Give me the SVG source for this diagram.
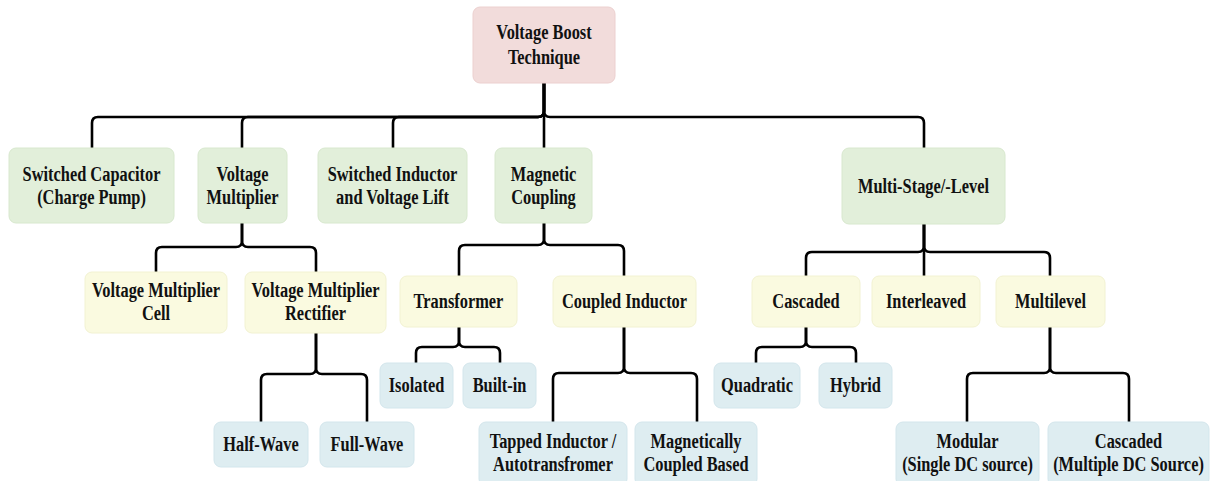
<svg xmlns="http://www.w3.org/2000/svg" width="1215" height="481" viewBox="0 0 1215 481">
  <style>
    .root { fill: #f2dcdb; stroke: #ecd0cf; stroke-width: 1; }
    .l1 { fill: #e2efda; stroke: #d8e8ce; stroke-width: 1; }
    .l2 { fill: #fafae0; stroke: #f2f2d2; stroke-width: 1; }
    .l3 { fill: #deedf1; stroke: #d3e6ec; stroke-width: 1; }
    .lbl { font-family: "Liberation Serif", "Times New Roman", serif; font-weight: bold; font-size: 20px; fill: #111; text-anchor: middle; }
    .wire { fill: none; stroke: #000; stroke-width: 2.6; stroke-linejoin: round; stroke-linecap: butt; }
  </style>
  <rect width="1215" height="481" fill="#fff"/>

  <!-- connectors: each child gets its own bracket path from the parent stem -->
  <g id="connectors" class="wire">
    <!-- root to level 1 (bus y=117) -->
    <path d="M544,83 V111 Q544,117 538,117 H98 Q92,117 92,123 V148"/>
    <path d="M544,83 V111 Q544,117 538,117 H248 Q242,117 242,123 V148"/>
    <path d="M544,83 V111 Q544,117 538,117 H399 Q393,117 393,123 V148"/>
    <path d="M544,83 V148"/>
    <path d="M544,83 V111 Q544,117 550,117 H918 Q924,117 924,123 V148"/>

    <!-- Voltage Multiplier (bus y=247) -->
    <path d="M242,223 V241 Q242,247 236,247 H162 Q156,247 156,253 V272"/>
    <path d="M242,223 V241 Q242,247 248,247 H310 Q316,247 316,253 V272"/>

    <!-- Magnetic Coupling (bus y=245) -->
    <path d="M544,223 V239 Q544,245 538,245 H465 Q459,245 459,251 V276"/>
    <path d="M544,223 V239 Q544,245 550,245 H618 Q624,245 624,251 V276"/>

    <!-- Multi-Stage/-Level (bus y=252) -->
    <path d="M924,224 V246 Q924,252 918,252 H812 Q806,252 806,258 V276"/>
    <path d="M924,224 V276"/>
    <path d="M924,224 V246 Q924,252 930,252 H1044 Q1050,252 1050,258 V276"/>

    <!-- Voltage Multiplier Rectifier (bus y=374) -->
    <path d="M316,333 V368 Q316,374 310,374 H267 Q261,374 261,380 V422"/>
    <path d="M316,333 V368 Q316,374 322,374 H361 Q367,374 367,380 V422"/>

    <!-- Transformer (bus y=347) -->
    <path d="M459,327 V341 Q459,347 453,347 H422 Q416,347 416,353 V363"/>
    <path d="M459,327 V341 Q459,347 465,347 H494 Q500,347 500,353 V363"/>

    <!-- Coupled Inductor (bus y=373) -->
    <path d="M624,327 V367 Q624,373 618,373 H559 Q553,373 553,379 V422"/>
    <path d="M624,327 V367 Q624,373 630,373 H691 Q697,373 697,379 V422"/>

    <!-- Cascaded (bus y=347) -->
    <path d="M806,327 V341 Q806,347 800,347 H762 Q756,347 756,353 V363"/>
    <path d="M806,327 V341 Q806,347 812,347 H850 Q856,347 856,353 V363"/>

    <!-- Multilevel (bus y=373) -->
    <path d="M1050,327 V367 Q1050,373 1044,373 H973 Q967,373 967,379 V422"/>
    <path d="M1050,327 V367 Q1050,373 1056,373 H1123 Q1129,373 1129,379 V422"/>
  </g>

  <!-- root -->
  <g id="n-root">
    <rect class="root" x="473" y="7" width="142" height="76" rx="7"/>
    <text class="lbl" transform="translate(544 39) scale(0.82 1)">Voltage Boost</text>
    <text class="lbl" transform="translate(544 64) scale(0.82 1)">Technique</text>
  </g>

  <!-- level 1 -->
  <g id="n-switched-capacitor">
    <rect class="l1" x="9" y="148" width="165" height="75" rx="7"/>
    <text class="lbl" transform="translate(91.5 181) scale(0.82 1)">Switched Capacitor</text>
    <text class="lbl" transform="translate(91.5 204) scale(0.82 1)">(Charge Pump)</text>
  </g>
  <g id="n-voltage-multiplier">
    <rect class="l1" x="198" y="148" width="89" height="75" rx="7"/>
    <text class="lbl" transform="translate(242.5 181) scale(0.82 1)">Voltage</text>
    <text class="lbl" transform="translate(242.5 204) scale(0.82 1)">Multiplier</text>
  </g>
  <g id="n-switched-inductor">
    <rect class="l1" x="318" y="148" width="149" height="75" rx="7"/>
    <text class="lbl" transform="translate(392.5 181) scale(0.82 1)">Switched Inductor</text>
    <text class="lbl" transform="translate(392.5 204) scale(0.82 1)">and Voltage Lift</text>
  </g>
  <g id="n-magnetic-coupling">
    <rect class="l1" x="495" y="148" width="97" height="75" rx="7"/>
    <text class="lbl" transform="translate(543.5 181) scale(0.82 1)">Magnetic</text>
    <text class="lbl" transform="translate(543.5 204) scale(0.82 1)">Coupling</text>
  </g>
  <g id="n-multi-stage">
    <rect class="l1" x="842" y="148" width="163" height="76" rx="7"/>
    <text class="lbl" transform="translate(923.5 193) scale(0.82 1)">Multi-Stage/-Level</text>
  </g>

  <!-- level 2 -->
  <g id="n-vm-cell">
    <rect class="l2" x="85" y="272" width="142" height="61" rx="7"/>
    <text class="lbl" transform="translate(156 297) scale(0.82 1)">Voltage Multiplier</text>
    <text class="lbl" transform="translate(156 320) scale(0.82 1)">Cell</text>
  </g>
  <g id="n-vm-rectifier">
    <rect class="l2" x="245" y="272" width="141" height="61" rx="7"/>
    <text class="lbl" transform="translate(315.5 297) scale(0.82 1)">Voltage Multiplier</text>
    <text class="lbl" transform="translate(315.5 320) scale(0.82 1)">Rectifier</text>
  </g>
  <g id="n-transformer">
    <rect class="l2" x="400" y="276" width="117" height="51" rx="7"/>
    <text class="lbl" transform="translate(458.5 308) scale(0.82 1)">Transformer</text>
  </g>
  <g id="n-coupled-inductor">
    <rect class="l2" x="553" y="276" width="143" height="51" rx="7"/>
    <text class="lbl" transform="translate(624.5 308) scale(0.82 1)">Coupled Inductor</text>
  </g>
  <g id="n-cascaded">
    <rect class="l2" x="752" y="276" width="108" height="51" rx="7"/>
    <text class="lbl" transform="translate(806 308) scale(0.82 1)">Cascaded</text>
  </g>
  <g id="n-interleaved">
    <rect class="l2" x="872" y="276" width="108" height="51" rx="7"/>
    <text class="lbl" transform="translate(926 308) scale(0.82 1)">Interleaved</text>
  </g>
  <g id="n-multilevel">
    <rect class="l2" x="996" y="276" width="109" height="51" rx="7"/>
    <text class="lbl" transform="translate(1050.5 308) scale(0.82 1)">Multilevel</text>
  </g>

  <!-- level 3 -->
  <g id="n-isolated">
    <rect class="l3" x="380" y="363" width="73" height="45" rx="7"/>
    <text class="lbl" transform="translate(416.5 392) scale(0.82 1)">Isolated</text>
  </g>
  <g id="n-built-in">
    <rect class="l3" x="463" y="363" width="73" height="45" rx="7"/>
    <text class="lbl" transform="translate(499.5 392) scale(0.82 1)">Built-in</text>
  </g>
  <g id="n-quadratic">
    <rect class="l3" x="714" y="363" width="86" height="45" rx="7"/>
    <text class="lbl" transform="translate(757 392) scale(0.82 1)">Quadratic</text>
  </g>
  <g id="n-hybrid">
    <rect class="l3" x="819" y="363" width="73" height="45" rx="7"/>
    <text class="lbl" transform="translate(855.5 392) scale(0.82 1)">Hybrid</text>
  </g>
  <g id="n-half-wave">
    <rect class="l3" x="214" y="422" width="94" height="45" rx="7"/>
    <text class="lbl" transform="translate(261 451) scale(0.82 1)">Half-Wave</text>
  </g>
  <g id="n-full-wave">
    <rect class="l3" x="320" y="422" width="94" height="45" rx="7"/>
    <text class="lbl" transform="translate(367 451) scale(0.82 1)">Full-Wave</text>
  </g>
  <g id="n-tapped-inductor">
    <rect class="l3" x="479" y="422" width="148" height="64" rx="7"/>
    <text class="lbl" transform="translate(553 448) scale(0.82 1)">Tapped Inductor /</text>
    <text class="lbl" transform="translate(553 471) scale(0.82 1)">Autotransfromer</text>
  </g>
  <g id="n-magnetically-coupled">
    <rect class="l3" x="635" y="422" width="122" height="64" rx="7"/>
    <text class="lbl" transform="translate(696 448) scale(0.82 1)">Magnetically</text>
    <text class="lbl" transform="translate(696 471) scale(0.82 1)">Coupled Based</text>
  </g>
  <g id="n-modular">
    <rect class="l3" x="896" y="422" width="143" height="64" rx="7"/>
    <text class="lbl" transform="translate(967.5 448) scale(0.82 1)">Modular</text>
    <text class="lbl" transform="translate(967.5 471) scale(0.82 1)">(Single DC source)</text>
  </g>
  <g id="n-cascaded-multiple">
    <rect class="l3" x="1048" y="422" width="161" height="64" rx="7"/>
    <text class="lbl" transform="translate(1128.5 448) scale(0.82 1)">Cascaded</text>
    <text class="lbl" transform="translate(1128.5 471) scale(0.82 1)">(Multiple DC Source)</text>
  </g>
</svg>
